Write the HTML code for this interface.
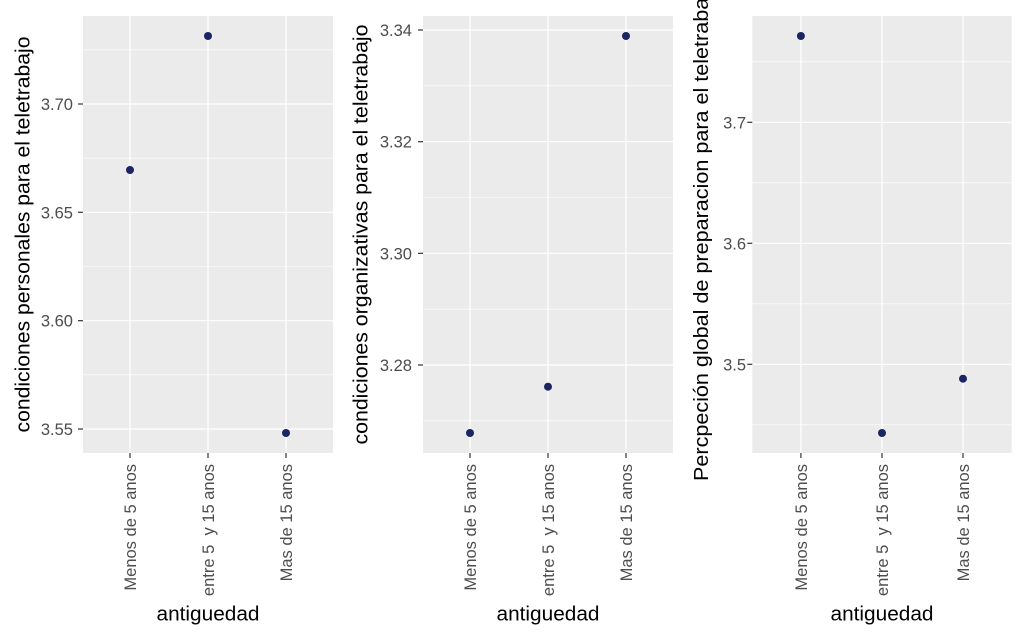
<!DOCTYPE html>
<html><head><meta charset="utf-8"><style>
html,body{margin:0;padding:0;background:#fff;}
svg{display:block;}
text{font-family:"Liberation Sans",Arial,sans-serif;}
.tk{font-size:16.5px;fill:#4D4D4D;}
.tt{font-size:20px;fill:#000;}
.mj{stroke:#fff;stroke-width:1.2;}
.mn{stroke:#fff;stroke-width:0.6;}
.tm{stroke:#333;stroke-width:1.2;}
</style></head><body>
<svg width="1024" height="641" viewBox="0 0 1024 641" xmlns="http://www.w3.org/2000/svg">
<rect width="1024" height="641" fill="#fff"/>

<!-- Panel 1 -->
<rect x="83" y="16" width="250" height="437" fill="#EBEBEB"/>
<g class="mn">
<line x1="83" x2="333" y1="49.8" y2="49.8"/><line x1="83" x2="333" y1="158.2" y2="158.2"/>
<line x1="83" x2="333" y1="266.5" y2="266.5"/><line x1="83" x2="333" y1="374.8" y2="374.8"/>
</g>
<g class="mj">
<line x1="83" x2="333" y1="104" y2="104"/><line x1="83" x2="333" y1="212.3" y2="212.3"/>
<line x1="83" x2="333" y1="320.7" y2="320.7"/><line x1="83" x2="333" y1="429" y2="429"/>
<line x1="130" x2="130" y1="16" y2="453"/><line x1="208" x2="208" y1="16" y2="453"/><line x1="286" x2="286" y1="16" y2="453"/>
</g>
<g fill="#1B2563">
<circle cx="130" cy="170" r="4"/><circle cx="208" cy="36" r="4"/><circle cx="286" cy="433" r="4"/>
</g>
<g class="tm">
<line x1="78" x2="83" y1="104" y2="104"/><line x1="78" x2="83" y1="212.3" y2="212.3"/>
<line x1="78" x2="83" y1="320.7" y2="320.7"/><line x1="78" x2="83" y1="429" y2="429"/>
<line x1="130" x2="130" y1="453" y2="458"/><line x1="208" x2="208" y1="453" y2="458"/><line x1="286" x2="286" y1="453" y2="458"/>
</g>
<g class="tk" text-anchor="end">
<text x="73" y="110">3.70</text><text x="73" y="218.3">3.65</text>
<text x="73" y="326.7">3.60</text><text x="73" y="435">3.55</text>
</g>
<g class="tk" text-anchor="end">
<text transform="translate(136,464) rotate(-90)">Menos de 5 anos</text>
<text transform="translate(214,464) rotate(-90)">entre 5&#160; y 15 anos</text>
<text transform="translate(292,464) rotate(-90)">Mas de 15 anos</text>
</g>
<text class="tt" text-anchor="middle" transform="translate(29.5,234.5) rotate(-90)" textLength="396" lengthAdjust="spacingAndGlyphs">condiciones personales para el teletrabajo</text>
<text class="tt" x="208" y="620.5" text-anchor="middle" textLength="103" lengthAdjust="spacingAndGlyphs">antiguedad</text>

<!-- Panel 2 -->
<rect x="423" y="16" width="250" height="437" fill="#EBEBEB"/>
<g class="mn">
<line x1="423" x2="673" y1="85.8" y2="85.8"/><line x1="423" x2="673" y1="197.5" y2="197.5"/>
<line x1="423" x2="673" y1="309.2" y2="309.2"/><line x1="423" x2="673" y1="420.8" y2="420.8"/>
</g>
<g class="mj">
<line x1="423" x2="673" y1="30" y2="30"/><line x1="423" x2="673" y1="141.7" y2="141.7"/>
<line x1="423" x2="673" y1="253.3" y2="253.3"/><line x1="423" x2="673" y1="365" y2="365"/>
<line x1="470" x2="470" y1="16" y2="453"/><line x1="548" x2="548" y1="16" y2="453"/><line x1="626" x2="626" y1="16" y2="453"/>
</g>
<g fill="#1B2563">
<circle cx="470" cy="433" r="4"/><circle cx="548" cy="386.7" r="4"/><circle cx="626" cy="36" r="4"/>
</g>
<g class="tm">
<line x1="418" x2="423" y1="30" y2="30"/><line x1="418" x2="423" y1="141.7" y2="141.7"/>
<line x1="418" x2="423" y1="253.3" y2="253.3"/><line x1="418" x2="423" y1="365" y2="365"/>
<line x1="470" x2="470" y1="453" y2="458"/><line x1="548" x2="548" y1="453" y2="458"/><line x1="626" x2="626" y1="453" y2="458"/>
</g>
<g class="tk" text-anchor="end">
<text x="412" y="36">3.34</text><text x="412" y="147.7">3.32</text>
<text x="412" y="259.3">3.30</text><text x="412" y="371">3.28</text>
</g>
<g class="tk" text-anchor="end">
<text transform="translate(476,464) rotate(-90)">Menos de 5 anos</text>
<text transform="translate(554,464) rotate(-90)">entre 5&#160; y 15 anos</text>
<text transform="translate(632,464) rotate(-90)">Mas de 15 anos</text>
</g>
<text class="tt" text-anchor="middle" transform="translate(367.5,234.5) rotate(-90)" textLength="420" lengthAdjust="spacingAndGlyphs">condiciones organizativas para el teletrabajo</text>
<text class="tt" x="548" y="620.5" text-anchor="middle" textLength="103" lengthAdjust="spacingAndGlyphs">antiguedad</text>

<!-- Panel 3 -->
<rect x="752.3" y="16" width="259.4" height="437" fill="#EBEBEB"/>
<g class="mn">
<line x1="752.3" x2="1011.7" y1="61.8" y2="61.8"/><line x1="752.3" x2="1011.7" y1="182.8" y2="182.8"/>
<line x1="752.3" x2="1011.7" y1="303.8" y2="303.8"/><line x1="752.3" x2="1011.7" y1="424.8" y2="424.8"/>
</g>
<g class="mj">
<line x1="752.3" x2="1011.7" y1="122.3" y2="122.3"/><line x1="752.3" x2="1011.7" y1="243.3" y2="243.3"/>
<line x1="752.3" x2="1011.7" y1="364.3" y2="364.3"/>
<line x1="800.9" x2="800.9" y1="16" y2="453"/><line x1="882" x2="882" y1="16" y2="453"/><line x1="963" x2="963" y1="16" y2="453"/>
</g>
<g fill="#1B2563">
<circle cx="800.9" cy="36" r="4"/><circle cx="882" cy="433" r="4"/><circle cx="963" cy="378.7" r="4"/>
</g>
<g class="tm">
<line x1="747.3" x2="752.3" y1="122.3" y2="122.3"/><line x1="747.3" x2="752.3" y1="243.3" y2="243.3"/>
<line x1="747.3" x2="752.3" y1="364.3" y2="364.3"/>
<line x1="800.9" x2="800.9" y1="453" y2="458"/><line x1="882" x2="882" y1="453" y2="458"/><line x1="963" x2="963" y1="453" y2="458"/>
</g>
<g class="tk" text-anchor="end">
<text x="746" y="128.3">3.7</text><text x="746" y="249.3">3.6</text><text x="746" y="370.3">3.5</text>
</g>
<g class="tk" text-anchor="end">
<text transform="translate(806.9,464) rotate(-90)">Menos de 5 anos</text>
<text transform="translate(888,464) rotate(-90)">entre 5&#160; y 15 anos</text>
<text transform="translate(969,464) rotate(-90)">Mas de 15 anos</text>
</g>
<text class="tt" text-anchor="middle" transform="translate(708,231) rotate(-90)" textLength="500" lengthAdjust="spacingAndGlyphs">Percpeción global de preparacion para el teletrabajo</text>
<text class="tt" x="882" y="620.5" text-anchor="middle" textLength="103" lengthAdjust="spacingAndGlyphs">antiguedad</text>
</svg>
</body></html>
